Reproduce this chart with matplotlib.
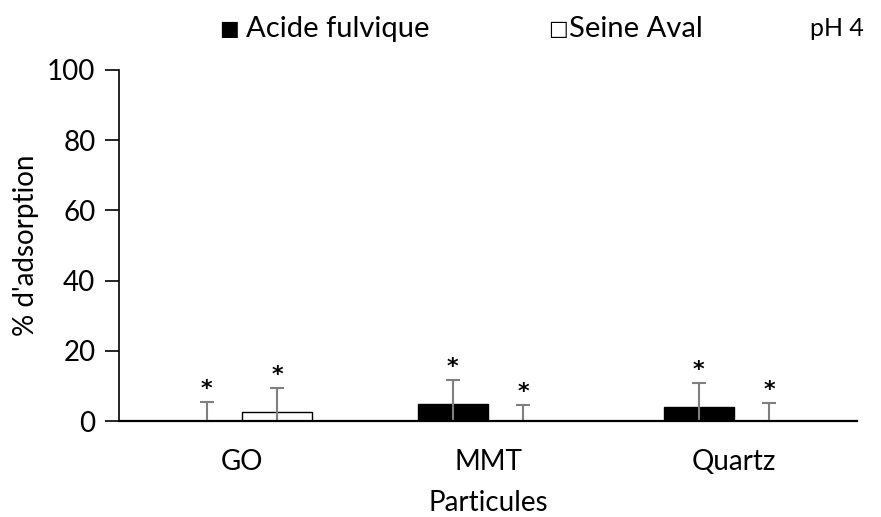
import numpy as np
import matplotlib.pyplot as plt

plt.rcParams['font.family'] = ['Lato', 'DejaVu Sans']

particules = ["GO", "MMT", "Quartz"]
acide_fulvique = [0.0, 4.8, 4.0]
acide_err = [5.4, 6.9, 6.8]
seine_aval = [2.6, 0.0, 0.0]
seine_err = [6.8, 4.6, 5.1]

fig = plt.figure(figsize=(8.81, 5.17), dpi=100)
ax = fig.add_axes([119/881, 1 - 421/517, 738/881, 351/517])

x = np.arange(len(particules))
w = 0.285
d = 0.144

ax.bar(x - d, acide_fulvique, w, color="black", edgecolor="black", linewidth=1)
ax.bar(x + d, seine_aval, w, color="white", edgecolor="black", linewidth=1)

# symmetric error bars, the lower half is cut off at 0 by the axes
ekw = dict(ecolor="#7f7f7f", elinewidth=1.5, capsize=5, capthick=1.5, fmt="none")
ax.errorbar(x - d, acide_fulvique, yerr=acide_err, **ekw)
ax.errorbar(x + d, seine_aval, yerr=seine_err, **ekw)

# significance stars
for xs, vals, errs in [(x - d, acide_fulvique, acide_err), (x + d, seine_aval, seine_err)]:
    for xi, v, e in zip(xs, vals, errs):
        ax.annotate("*", (xi, v + e), xytext=(0, 2), textcoords="offset points",
                    ha="center", va="bottom", fontsize=16, fontweight="bold",
                    family="DejaVu Sans")

ax.set_xlim(-0.5, 2.5)
ax.set_ylim(0, 100)
ax.set_yticks([0, 20, 40, 60, 80, 100])
ax.set_xticks(x)
ax.set_xticklabels(particules)
ax.tick_params(axis="y", direction="out", length=10, width=1.2, labelsize=20, pad=7)
ax.tick_params(axis="x", length=0, labelsize=20, pad=20)
ax.spines["top"].set_visible(False)
ax.spines["right"].set_visible(False)
ax.spines["left"].set_linewidth(1.2)
ax.spines["bottom"].set_linewidth(1.6)

ax.set_ylabel("% d'adsorption", fontsize=20, labelpad=6)
ax.set_xlabel("Particules", fontsize=20, labelpad=11)

ly = 1 - 29/517
fig.text(229/881, ly, "■", fontsize=15, va="center", ha="center", family="DejaVu Sans")
fig.text(246/881, ly, "Acide fulvique", fontsize=21, va="center", ha="left")
fig.text(558/881, ly, "□", fontsize=15, va="center", ha="center", family="DejaVu Sans")
fig.text(569/881, ly, "Seine Aval", fontsize=21, va="center", ha="left")
fig.text(810/881, ly, "pH 4", fontsize=18, va="center", ha="left")

fig.savefig("out.png", dpi=100)
